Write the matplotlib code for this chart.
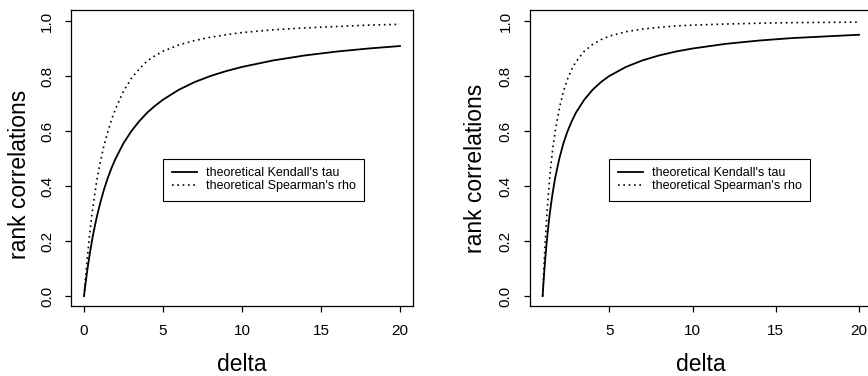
import matplotlib
matplotlib.use("Agg")
import matplotlib.pyplot as plt

plt.rcParams['font.family'] = ['Liberation Sans', 'DejaVu Sans']

# Left panel (delta from 0 to 20)
delta_L = [0, 0.1, 0.2, 0.3, 0.4, 0.5, 0.6, 0.8, 1.0, 1.25, 1.5, 1.75, 2, 2.5, 3, 3.5, 4,
           4.5, 5, 6, 7, 8, 9, 10, 12, 14, 16, 18, 20]
tau_L = [0, 0.048, 0.091, 0.130, 0.167, 0.2, 0.231, 0.286, 0.333, 0.385, 0.429, 0.467, 0.5,
         0.556, 0.6, 0.636, 0.667, 0.692, 0.714, 0.75, 0.778, 0.8, 0.818, 0.833, 0.857,
         0.875, 0.889, 0.9, 0.909]
rho_L = [0, 0.071, 0.135, 0.193, 0.247, 0.295, 0.339, 0.418, 0.479, 0.545, 0.597, 0.643,
         0.682, 0.745, 0.792, 0.826, 0.855, 0.874, 0.890, 0.913, 0.929, 0.941, 0.950, 0.958,
         0.968, 0.975, 0.980, 0.985, 0.988]

# Right panel (delta from 1 to 20)
delta_R = [1, 1.05, 1.1, 1.15, 1.2, 1.3, 1.4, 1.5, 1.6, 1.75, 2, 2.25, 2.5, 2.75, 3, 3.5, 4,
           4.5, 5, 6, 7, 8, 9, 10, 12, 14, 16, 18, 20]
tau_R = [0, 0.048, 0.091, 0.130, 0.167, 0.231, 0.286, 0.333, 0.375, 0.429, 0.5, 0.556, 0.6,
         0.636, 0.667, 0.714, 0.75, 0.778, 0.8, 0.833, 0.857, 0.875, 0.889, 0.9, 0.917,
         0.929, 0.938, 0.944, 0.95]
rho_R = [0, 0.071, 0.135, 0.193, 0.245, 0.335, 0.412, 0.478, 0.532, 0.598, 0.682, 0.745,
         0.790, 0.825, 0.852, 0.890, 0.915, 0.932, 0.945, 0.961, 0.971, 0.977, 0.982, 0.985,
         0.989, 0.992, 0.994, 0.995, 0.996]

xticks_L = [0, 5, 10, 15, 20]
xticks_R = [5, 10, 15, 20]
yticks = [0.0, 0.2, 0.4, 0.6, 0.8, 1.0]
legend_labels = ["theoretical Kendall's tau", "theoretical Spearman's rho"]

W, H = 868, 376
fig = plt.figure(figsize=(W / 100, H / 100), dpi=100)

def px_axes(l, r, t, b):
    return fig.add_axes([l / W, (H - b) / H, (r - l) / W, (b - t) / H])

axL = px_axes(71.4, 412.6, 10, 306)
axR = px_axes(530, 871.7, 10, 306)

panels = [
    (axL, delta_L, tau_L, rho_L, xticks_L, (-0.8, 20.8), (-0.119, 0.446)),
    (axR, delta_R, tau_R, rho_R, xticks_R, (0.24, 20.76), (-0.126, 0.466)),
]

for ax, d, t, r, xt, xl, ylc in panels:
    l1, = ax.plot(d, t, color='black', lw=1.3)
    l2, = ax.plot(d, r, color='black', lw=1.2, linestyle=(0, (1, 2.2)))
    ax.set_xlim(*xl)
    ax.set_ylim(-0.036, 1.04)
    ax.set_xticks(xt)
    ax.set_xticklabels([str(v) for v in xt])
    ax.set_yticks(yticks)
    ax.set_yticklabels([f"{v:.1f}" for v in yticks], rotation=90, va='center')
    ax.tick_params(axis='both', direction='out', length=4.5, width=0.9, labelsize=11,
                   color='black')
    ax.tick_params(axis='x', pad=8.5)
    ax.tick_params(axis='y', pad=8)
    for s in ax.spines.values():
        s.set_linewidth(0.9)
        s.set_color('black')
    ax.set_xlabel('delta', fontsize=16.5)
    ax.set_ylabel('rank correlations', fontsize=16.5)
    ax.xaxis.set_label_coords(0.5, -0.159)
    ax.yaxis.set_label_coords(*ylc)
    leg = ax.legend([l1, l2], legend_labels, loc='upper left',
                    bbox_to_anchor=(5, 0.5), bbox_transform=ax.transData,
                    borderaxespad=0, fontsize=9, frameon=True, fancybox=False,
                    edgecolor='black', framealpha=1, handlelength=2.0,
                    handletextpad=0.7, labelspacing=0.05, borderpad=0.7)
    leg.get_frame().set_linewidth(0.8)

fig.savefig('out.png', dpi=100)
